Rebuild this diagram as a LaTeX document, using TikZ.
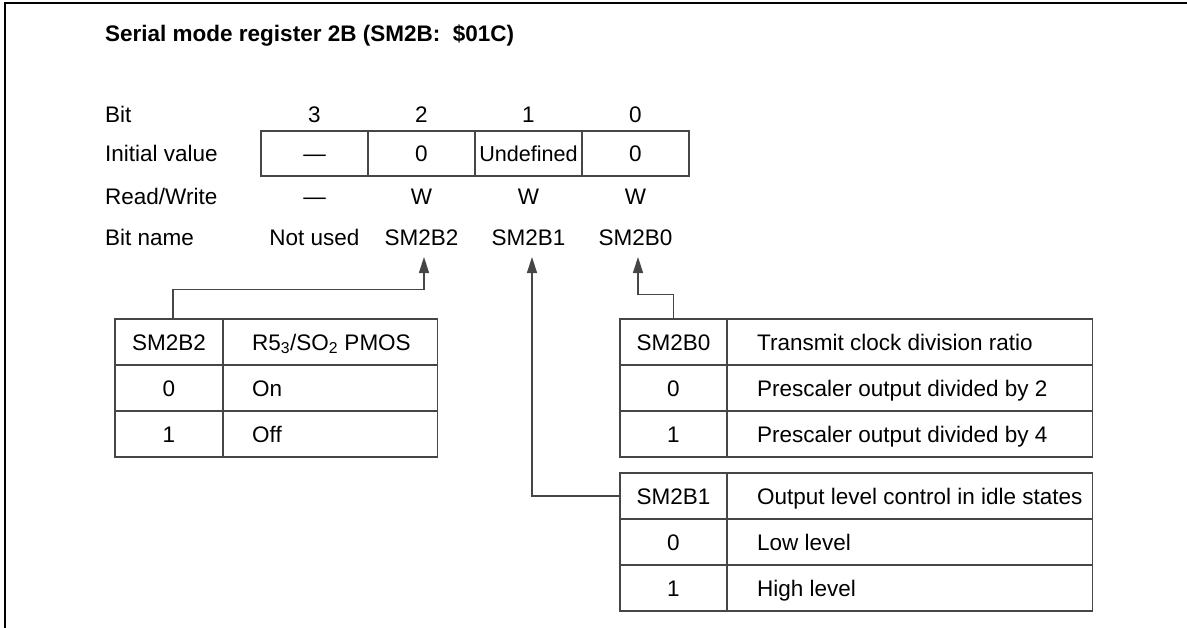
\documentclass[tikz,border=0pt]{standalone}
\usepackage{fontspec}
\setmainfont{Liberation Sans}
\usetikzlibrary{arrows.meta}
\definecolor{ln}{RGB}{70,70,70}
\begin{document}
\begin{tikzpicture}[x=1pt,y=-1pt,
  txt/.style={font=\fontsize{22.5}{27}\selectfont, inner sep=0pt, text height=16.1pt, text depth=0pt},
  lbl/.style={txt, anchor=west},
  ttl/.style={lbl, font=\fontsize{22.5}{27}\selectfont\bfseries},
  cellbox/.style={txt, draw=ln, line width=1.4pt, minimum height=46pt},
  regbox/.style={cellbox, minimum width=107pt, minimum height=45pt},
  kbox/.style={cellbox, minimum width=107pt},
  dbox/.style={cellbox, anchor=west},
  conn/.style={draw=ln, line width=1.4pt},
  arr/.style={conn, -{Triangle[length=16pt,width=10pt]}}
]
\useasboundingbox (0,0) rectangle (1187,627);
% frame
\draw[line width=2pt, line cap=rect] (5,627) -- (5,3) -- (1187,3);

% title
\node[ttl] (title) at (105,33) {Serial mode register 2B (SM2B:\ \ \$01C)};

% row labels
\node[lbl] (lbit) at (105,114) {Bit};
\node[lbl] (linit) at (105,153.5) {Initial value};
\node[lbl] (lrw) at (105,196) {Read/Write};
\node[lbl] (lname) at (105,237) {Bit name};

% bit numbers
\node[txt] (b3) at (314.5,114) {3};
\node[txt] (b2) at (421.5,114) {2};
\node[txt] (b1) at (528.5,114) {1};
\node[txt] (b0) at (635.5,114) {0};

% register cells
\node[regbox] (r3) at (314.5,153.5) {---};
\node[regbox] (r2) at (421.5,153.5) {0};
\node[regbox] (r1) at (528.5,153.5) {\fontsize{21.6}{26}\selectfont Undefined};
\node[regbox] (r0) at (635.5,153.5) {0};

% read/write
\node[txt] (w3) at (314.5,196) {---};
\node[txt] (w2) at (421.5,196) {W};
\node[txt] (w1) at (528.5,196) {W};
\node[txt] (w0) at (635.5,196) {W};

% bit names
\node[txt] (n3) at (314.5,237) {Not used};
\node[txt] (n2) at (421.5,237) {SM2B2};
\node[txt] (n1) at (528.5,237) {SM2B1};
\node[txt] (n0) at (635.5,237) {SM2B0};

\coordinate (a2) at (424,257);
\coordinate (a1) at (532,257);
\coordinate (a0) at (638,257);

% left table (SM2B2)
\node[kbox, minimum width=108pt] (lk1) at (169,342) {SM2B2};
\node[dbox, minimum width=214pt] (ld1) at (223,342) {};
\node[lbl] (lt1) at ([xshift=29pt]ld1.west) {R5\textsubscript{3}/SO\textsubscript{2} PMOS};
\node[kbox, minimum width=108pt] (lk2) at (169,388) {0};
\node[dbox, minimum width=214pt] (ld2) at (223,388) {};
\node[lbl] (lt2) at ([xshift=29pt]ld2.west) {On};
\node[kbox, minimum width=108pt] (lk3) at (169,434) {1};
\node[dbox, minimum width=214pt] (ld3) at (223,434) {};
\node[lbl] (lt3) at ([xshift=29pt]ld3.west) {Off};

% right table (SM2B0)
\node[kbox] (rk1) at (673.5,342) {SM2B0};
\node[dbox, minimum width=365pt] (rd1) at (727,342) {};
\node[lbl] (rt1) at ([xshift=30pt]rd1.west) {Transmit clock division ratio};
\node[kbox] (rk2) at (673.5,388) {0};
\node[dbox, minimum width=365pt] (rd2) at (727,388) {};
\node[lbl] (rt2) at ([xshift=30pt]rd2.west) {Prescaler output divided by 2};
\node[kbox] (rk3) at (673.5,434) {1};
\node[dbox, minimum width=365pt] (rd3) at (727,434) {};
\node[lbl] (rt3) at ([xshift=30pt]rd3.west) {Prescaler output divided by 4};

% right table (SM2B1)
\node[kbox] (bk1) at (673.5,496) {SM2B1};
\node[dbox, minimum width=365pt] (bd1) at (727,496) {};
\node[lbl] (bt1) at ([xshift=30pt]bd1.west) {Output level control in idle states};
\node[kbox] (bk2) at (673.5,542) {0};
\node[dbox, minimum width=365pt] (bd2) at (727,542) {};
\node[lbl] (bt2) at ([xshift=30pt]bd2.west) {Low level};
\node[kbox] (bk3) at (673.5,588) {1};
\node[dbox, minimum width=365pt] (bd3) at (727,588) {};
\node[lbl] (bt3) at ([xshift=30pt]bd3.west) {High level};

% connectors
\draw[arr] ([xshift=4pt]lk1.north) -- ++(0,-29) -| (a2);
\draw[arr] (rk1.north) -- ++(0,-24) -| (a0);
\draw[arr] (bk1.west) -| (a1);
\end{tikzpicture}
\end{document}
